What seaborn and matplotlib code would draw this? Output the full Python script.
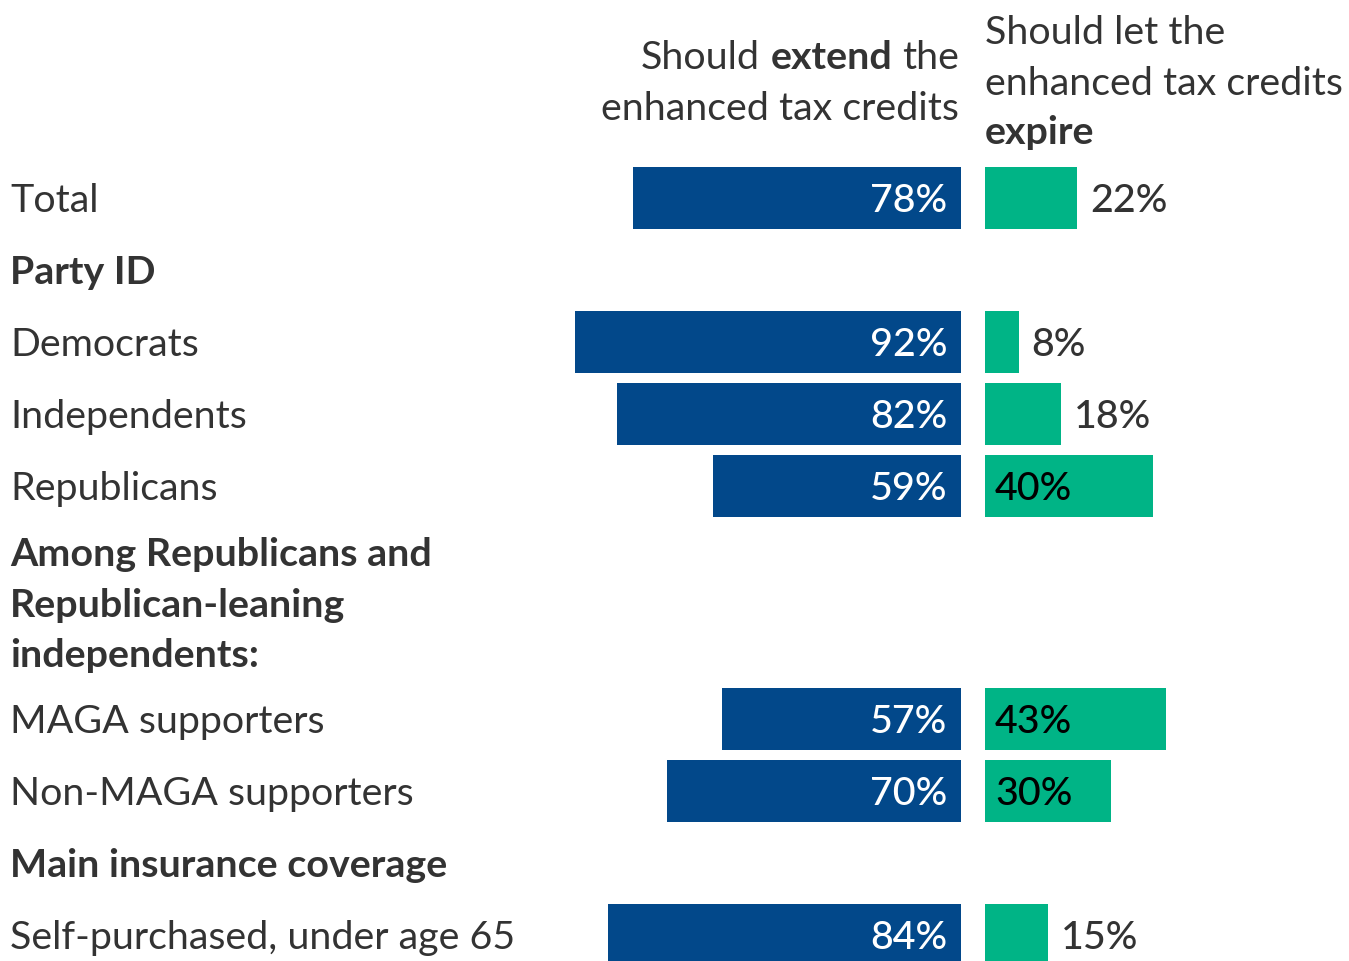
import matplotlib
matplotlib.use("Agg")
import matplotlib.pyplot as plt
import matplotlib.transforms as mtransforms
import seaborn as sns
import pandas as pd

# Survey results: share who say Congress should extend / let expire the enhanced ACA tax credits
groups = ["Total", "Democrats", "Independents", "Republicans",
          "MAGA supporters", "Non-MAGA supporters", "Self-purchased, under age 65"]
extend = [78, 92, 82, 59, 57, 70, 84]
expire = [22, 8, 18, 40, 43, 30, 15]

# Vertical slot of each row (one slot = one bar row); section titles sit between groups
row_slot = [0, 2, 3, 4, 7.24, 8.24, 10.24]
sections = [["Party ID"],
            ["Among Republicans and", "Republican-leaning", "independents:"],
            ["Main insurance coverage"]]
section_slot = [1.0, 4.92, 9.24]

BLUE = "#02488a"
GREEN = "#00b486"
TEXT = "#333333"
FONT = "Lato"

sns.set_theme(style="white")
plt.rcParams["font.family"] = [FONT, "DejaVu Sans"]

W, H = 1349, 961
PX_PER_PCT = 4.2
SPLIT_L = 961      # right edge of the "extend" bars, in pixels
SPLIT_R = 985      # left edge of the "expire" bars, in pixels
SLOT_PX = 72
TOP_ROW_PX = 198
LINE_PX = 50.5     # line pitch of multi-line titles
FS = 28.4
CAP_HALF = FS * 100 / 72 * 0.717 / 2   # half cap height, px

fig = plt.figure(figsize=(W / 100, H / 100), dpi=100)
fig.patch.set_facecolor("white")

df = pd.DataFrame({"group": groups, "slot": row_slot,
                   "extend": extend, "expire": expire})

y_top = -TOP_ROW_PX / SLOT_PX
y_bot = (H - TOP_ROW_PX) / SLOT_PX

ax_l = fig.add_axes([0, 0, SPLIT_L / W, 1])
ax_r = fig.add_axes([SPLIT_R / W, 0, (W - SPLIT_R) / W, 1])

bar_h = 62 / SLOT_PX
sns.barplot(data=df, x="extend", y="slot", orient="y", native_scale=True,
            color=BLUE, width=bar_h, saturation=1, ax=ax_l, errorbar=None,
            linewidth=0)
sns.barplot(data=df, x="expire", y="slot", orient="y", native_scale=True,
            color=GREEN, width=bar_h, saturation=1, ax=ax_r, errorbar=None,
            linewidth=0)

ax_l.set_xlim(SPLIT_L / PX_PER_PCT, 0)
ax_r.set_xlim(0, (W - SPLIT_R) / PX_PER_PCT)
for ax in (ax_l, ax_r):
    ax.set_ylim(y_bot, y_top)
    ax.axis("off")
    ax.patch.set_alpha(0)

# text is set on its baseline, shifted down by half a cap height from the row centre
base = CAP_HALF / SLOT_PX

# value labels
for v, s in zip(extend, row_slot):
    ax_l.text(14 / PX_PER_PCT, s + base, f"{v}%", ha="right", va="baseline",
              color="white", fontsize=FS, fontweight="medium")
for v, s in zip(expire, row_slot):
    if v >= 25:
        ax_r.text(10 / PX_PER_PCT, s + base, f"{v}%", ha="left", va="baseline",
                  color="black", fontsize=FS, fontweight="medium")
    else:
        ax_r.text(v + 13 / PX_PER_PCT, s + base, f"{v}%", ha="left", va="baseline",
                  color=TEXT, fontsize=FS, fontweight="medium")

# row and section labels
lab_tr = mtransforms.blended_transform_factory(ax_l.transAxes, ax_l.transData)
x_lab = 10 / SPLIT_L
for g, s in zip(groups, row_slot):
    ax_l.text(x_lab, s + base, g, transform=lab_tr, ha="left", va="baseline",
              color=TEXT, fontsize=FS)
for lines, s in zip(sections, section_slot):
    for k, line in enumerate(lines):
        ax_l.text(x_lab, s + base + k * LINE_PX / SLOT_PX, line, transform=lab_tr,
                  ha="left", va="baseline", color=TEXT, fontsize=FS,
                  fontweight="bold")

# column headers with mixed weights, laid out piece by piece in pixel space
ov = fig.add_axes([0, 0, 1, 1])
ov.set_xlim(0, W)
ov.set_ylim(H, 0)
ov.axis("off")
ov.patch.set_alpha(0)
renderer = fig.canvas.get_renderer()


def width_of(txt, weight):
    t = ov.text(0, 0, txt, fontsize=FS, fontweight=weight)
    w = t.get_window_extent(renderer).width
    t.remove()
    return w


space_w = width_of("a a", "normal") - width_of("aa", "normal")


def rich_line(x, y, parts, ha):
    widths = [width_of(p, wt) for p, wt in parts]
    total = sum(widths) + space_w * (len(parts) - 1)
    cx = x - total if ha == "right" else x
    for (p, wt), w in zip(parts, widths):
        ov.text(cx, y + CAP_HALF, p, ha="left", va="baseline", fontsize=FS,
                fontweight=wt, color=TEXT)
        cx += w + space_w


rich_line(959, 55, [("Should", "normal"), ("extend", "bold"), ("the", "normal")], "right")
rich_line(959, 106, [("enhanced tax credits", "normal")], "right")
rich_line(985, 30, [("Should let the", "normal")], "left")
rich_line(985, 81, [("enhanced tax credits", "normal")], "left")
rich_line(985, 130, [("expire", "bold")], "left")

fig.savefig("out.png", dpi=100, facecolor="white")
